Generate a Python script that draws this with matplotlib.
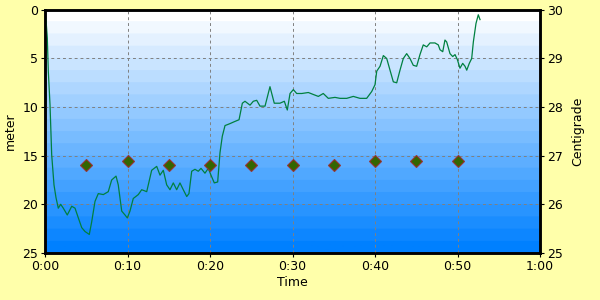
import numpy as np
import matplotlib
matplotlib.use("Agg")
import matplotlib.pyplot as plt
from matplotlib.colors import LinearSegmentedColormap

# depth profile (minutes, meters)
time_min = [0.0, 0.12, 0.28, 0.40, 0.61, 0.81, 1.09, 1.33, 1.61, 1.90, 2.22, 2.70, 3.24, 3.64,
            4.04, 4.45, 4.85, 5.37, 5.66, 6.06, 6.46, 7.07, 7.67, 8.08, 8.61, 8.88, 9.30, 9.70,
            9.98, 10.30, 10.70, 11.31, 11.72, 12.33, 12.93, 13.54, 13.94, 14.34, 14.75, 15.15,
            15.55, 15.96, 16.36, 16.76, 17.18, 17.45, 17.78, 18.18, 18.58, 18.91, 19.39, 19.79,
            20.12, 20.52, 20.93, 21.21, 21.49, 21.82, 22.42, 22.95, 23.52, 23.92, 24.24, 24.85,
            25.25, 25.66, 26.06, 26.67, 27.27, 27.79, 28.48, 29.01, 29.37, 29.70, 30.10, 30.51,
            31.12, 31.92, 32.52, 33.13, 33.73, 34.34, 35.15, 35.76, 36.57, 37.37, 38.18, 38.99,
            39.60, 40.00, 40.21, 40.61, 41.01, 41.42, 41.82, 42.22, 42.63, 43.03, 43.43, 43.84,
            44.24, 44.64, 45.05, 45.45, 45.85, 46.27, 46.67, 47.27, 47.67, 47.88, 48.21, 48.48,
            48.69, 49.09, 49.42, 49.70, 49.98, 50.30, 50.63, 50.91, 51.12, 51.43, 51.72, 51.92,
            52.24, 52.52, 52.73]
depth_m = [0.5, 1.0, 2.9, 6.3, 9.8, 14.9, 18.0, 19.3, 20.4, 20.0, 20.4, 21.1, 20.2, 20.4,
           21.4, 22.4, 22.8, 23.1, 21.8, 19.7, 18.9, 19.0, 18.7, 17.5, 17.1, 18.0, 20.7, 21.1,
           21.4, 20.7, 19.4, 19.0, 18.5, 18.7, 16.5, 16.1, 17.0, 16.5, 18.0, 18.5,
           17.8, 18.5, 17.8, 18.5, 19.2, 18.9, 16.6, 16.4, 16.6, 16.3, 16.8, 16.3,
           17.0, 17.8, 17.7, 14.7, 13.0, 11.9, 11.7, 11.5, 11.3, 9.6, 9.4, 9.8,
           9.4, 9.3, 9.9, 9.9, 7.9, 9.6, 9.6, 9.4, 10.3, 8.6, 8.2, 8.6,
           8.6, 8.5, 8.7, 8.9, 8.6, 9.1, 9.0, 9.1, 9.1, 8.9, 9.1, 9.1,
           8.4, 7.7, 6.3, 5.8, 4.7, 5.0, 6.2, 7.4, 7.5, 6.2, 5.0, 4.5,
           5.0, 5.7, 5.8, 4.6, 3.6, 3.8, 3.4, 3.4, 3.6, 4.1, 4.3, 3.1,
           3.3, 4.5, 4.8, 4.6, 5.1, 6.0, 5.5, 5.8, 6.2, 5.5, 5.0, 3.3,
           1.4, 0.5, 1.0]

# temperature samples
temp_time = [5, 10, 15, 20, 25, 30, 35, 40, 45, 50]
temp_c = [26.8, 26.9, 26.8, 26.8, 26.8, 26.8, 26.8, 26.9, 26.9, 26.9]

x_ticks = [0, 10, 20, 30, 40, 50, 60]
x_labels = ["0:00", "0:10", "0:20", "0:30", "0:40", "0:50", "1:00"]

bg = "#FFFFAA"
fig = plt.figure(figsize=(6, 3), dpi=100, facecolor=bg)
ax = fig.add_axes([0.075, 0.157, 0.825, 0.81])

# banded water gradient
cmap = LinearSegmentedColormap.from_list("water", ["#FFFFFF", "#0080FF"], N=20)
grad = np.linspace(0, 1, 200).reshape(-1, 1)
ax.imshow(grad, cmap=cmap, aspect="auto", extent=[0, 60, 25, 0], zorder=0)

ax.plot(time_min, depth_m, color="#008040", lw=0.9, zorder=3)
ax.set_xlim(0, 60)
ax.set_ylim(25, 0)
ax.set_xticks(x_ticks)
ax.set_xticklabels(x_labels)
ax.set_yticks([0, 5, 10, 15, 20, 25])
ax.grid(True, color="#808080", ls=(0, (3, 3)), lw=0.7)
ax.set_axisbelow(False)
ax.set_xlabel("Time", fontsize=9, labelpad=2)
ax.set_ylabel("meter", fontsize=9, labelpad=4)
ax.tick_params(labelsize=9, length=3, pad=2)
for s in ax.spines.values():
    s.set_linewidth(1.8)

ax2 = ax.twinx()
ax2.plot(temp_time, temp_c, ls="none", marker="D", ms=6.5, mfc="#336600",
         mec="#993333", mew=0.8, zorder=4)
ax2.set_ylim(25, 30)
ax2.set_yticks([25, 26, 27, 28, 29, 30])
ax2.set_ylabel("Centigrade", fontsize=9, labelpad=6)
ax2.tick_params(labelsize=9, length=3, pad=2)
for s in ax2.spines.values():
    s.set_linewidth(1.8)

fig.savefig("out.png", dpi=100, facecolor=bg)
